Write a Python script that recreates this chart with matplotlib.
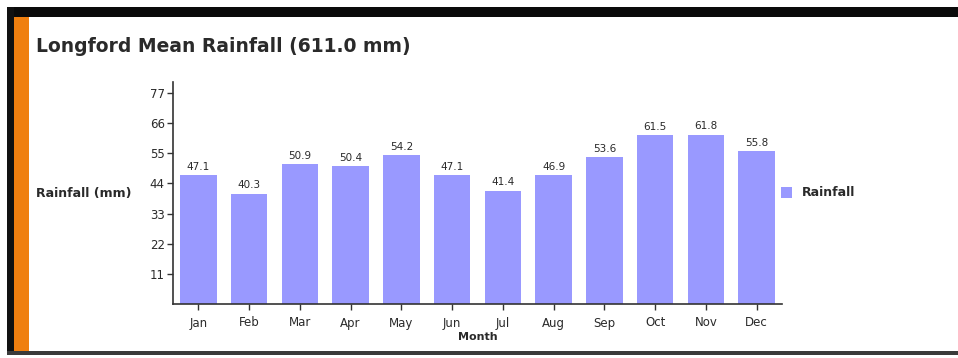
import matplotlib
matplotlib.use("Agg")
import matplotlib.pyplot as plt
from matplotlib.patches import Rectangle

months = ["Jan", "Feb", "Mar", "Apr", "May", "Jun",
          "Jul", "Aug", "Sep", "Oct", "Nov", "Dec"]
rainfall = [47.1, 40.3, 50.9, 50.4, 54.2, 47.1,
            41.4, 46.9, 53.6, 61.5, 61.8, 55.8]
y_ticks = [11, 22, 33, 44, 55, 66, 77]
title = "Longford Mean Rainfall (611.0 mm)"

W, H = 958, 358
fig = plt.figure(figsize=(W / 100, H / 100), dpi=100)
fig.patch.set_facecolor("white")

def px_rect(x0, y0, x1, y1, color):
    fig.patches.append(Rectangle((x0 / W, 1 - y1 / H), (x1 - x0) / W, (y1 - y0) / H,
                                 transform=fig.transFigure, facecolor=color,
                                 edgecolor="none", zorder=0))

# panel frame: black top and left edges, orange accent strip, dark bottom edge
px_rect(7, 7, W, 17, "#0a0a0a")
px_rect(7, 7, 14, 354, "#111111")
px_rect(14, 17, 29, 352, "#f07f0f")
px_rect(7, 351, W, 355, "#3a3a3a")

ax = fig.add_axes([173 / W, (H - 304) / H, (782 - 173) / W, (304 - 82) / H])
x = list(range(len(months)))
bars = ax.bar(x, rainfall, width=0.72, color="#9999ff", zorder=2)
for xi, v in zip(x, rainfall):
    ax.text(xi, v + 1.2, f"{v:.1f}", ha="center", va="bottom",
            fontsize=7.5, color="#2a2a2a")

ax.set_xlim(-0.5, len(months) - 0.5)
ax.set_ylim(0, 81)
ax.set_xticks(x)
ax.set_xticklabels(months, fontsize=8.5, color="#2a2a2a")
ax.set_yticks(y_ticks)
ax.set_yticklabels([str(t) for t in y_ticks], fontsize=8.5, color="#2a2a2a")
ax.tick_params(axis="both", length=4, width=1, color="#333333")
ax.tick_params(axis="x", pad=5)
ax.tick_params(axis="y", pad=2)
for s in ["top", "right"]:
    ax.spines[s].set_visible(False)
for s in ["left", "bottom"]:
    ax.spines[s].set_color("#333333")
    ax.spines[s].set_linewidth(1.2)

ax.set_xlabel("Month", fontsize=8, fontweight="bold", color="#2a2a2a", labelpad=2)

fig.text(36 / W, 1 - 193 / H, "Rainfall (mm)", fontsize=9, fontweight="bold",
         color="#2a2a2a", ha="left", va="center")
fig.text(36 / W, 1 - 47 / H, title, fontsize=13.5, fontweight="bold",
         color="#2a2a2a", ha="left", va="center")

# legend entry
fig.patches.append(Rectangle((781 / W, 1 - 198 / H), 11 / W, 11 / H,
                             transform=fig.transFigure, facecolor="#9999ff",
                             edgecolor="none"))
fig.text(802 / W, 1 - 192 / H, "Rainfall", fontsize=9, fontweight="bold",
         color="#2a2a2a", ha="left", va="center")

fig.savefig("out.png", dpi=100)
